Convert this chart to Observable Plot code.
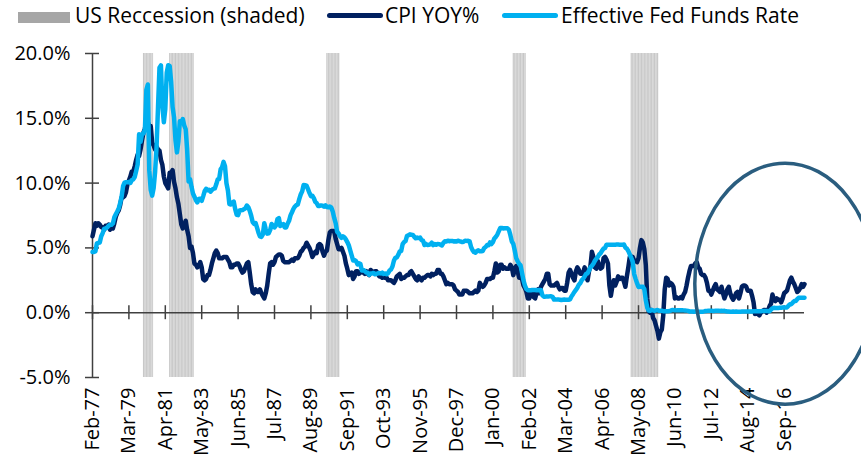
<!DOCTYPE html>
<html><head><meta charset="utf-8">
<script src="https://cdn.jsdelivr.net/npm/d3@7"></script>
<script src="https://cdn.jsdelivr.net/npm/@observablehq/plot@0.6"></script>
<style>
body{margin:0;background:#fff;font-family:"Open Sans",sans-serif;}
#legend{position:relative;height:32px;width:861px;font-size:21px;color:#000;}
#legend .sw{position:absolute;}
#legend .lb{position:absolute;top:0px;line-height:30px;white-space:nowrap;}
#chart svg{display:block;}
</style></head><body>
<div id="legend">
  <div class="sw" style="left:18px;top:12px;width:52px;height:11px;background:#a6a6a6"></div>
  <div class="lb" style="left:75px">US Reccession (shaded)</div>
  <div class="sw" style="left:327px;top:13px;width:56px;height:5px;border-radius:3px;background:#002060"></div>
  <div class="lb" style="left:385px">CPI YOY%</div>
  <div class="sw" style="left:502px;top:13px;width:56px;height:5px;border-radius:3px;background:#00b0f0"></div>
  <div class="lb" style="left:561px">Effective Fed Funds Rate</div>
</div>
<div id="chart"></div>
<script>
// Monthly series, Feb-1977 .. Nov-2017 (one row per year)
const cpi = [
  5.9,6.4,6.9,6.7,6.9,6.8,6.6,6.6,6.4,6.7,6.7,
  6.8,6.4,6.6,6.5,6.9,7.4,7.7,7.9,8.3,8.9,8.9,9.0,
  9.3,9.9,10.2,10.5,10.9,10.9,11.3,11.8,12.2,12.1,12.6,13.3,
  13.9,14.2,14.8,14.7,14.4,14.4,13.1,12.9,12.6,12.8,12.6,12.5,
  11.8,11.4,10.5,10.0,9.8,9.6,10.8,10.8,11.0,10.1,9.6,8.9,
  8.4,7.6,6.8,6.5,6.7,7.1,6.4,5.9,5.0,5.1,4.6,3.8,
  3.7,3.5,3.6,3.9,3.5,2.6,2.5,2.6,2.9,2.9,3.3,3.8,
  4.2,4.6,4.8,4.6,4.2,4.2,4.2,4.3,4.3,4.3,4.1,3.9,
  3.5,3.5,3.7,3.7,3.8,3.8,3.6,3.3,3.1,3.2,3.5,3.8,
  3.9,3.1,2.2,1.6,1.5,1.8,1.6,1.6,1.8,1.5,1.3,1.1,
  1.5,2.1,3.0,3.8,3.9,3.7,3.9,4.3,4.4,4.5,4.5,4.4,
  4.0,3.9,3.9,3.9,3.9,4.0,4.1,4.0,4.2,4.2,4.2,4.4,
  4.7,4.8,5.0,5.1,5.4,5.2,5.0,4.7,4.3,4.5,4.7,4.6,
  5.2,5.3,5.2,4.7,4.4,4.7,4.8,5.6,6.2,6.3,6.3,6.3,
  5.7,5.3,4.9,4.9,5.0,4.7,4.4,3.8,3.4,2.9,3.0,3.1,
  2.6,2.8,3.2,3.2,3.0,3.1,3.2,3.1,3.0,3.2,3.0,2.9,
  3.3,3.2,3.1,3.2,3.2,3.0,2.8,2.8,2.7,2.8,2.7,2.7,
  2.5,2.5,2.5,2.4,2.3,2.5,2.8,2.9,3.0,2.6,2.7,2.7,
  2.8,2.9,2.9,3.1,3.2,3.0,2.8,2.6,2.5,2.8,2.6,2.5,
  2.7,2.7,2.8,2.9,2.9,2.8,3.0,2.9,3.0,3.0,3.3,3.3,
  3.0,3.0,2.8,2.5,2.2,2.3,2.2,2.2,2.2,2.1,1.8,1.7,
  1.6,1.4,1.4,1.4,1.7,1.7,1.7,1.6,1.5,1.5,1.5,1.6,
  1.7,1.6,1.7,2.3,2.1,2.0,2.1,2.3,2.6,2.6,2.6,2.7,
  2.7,3.2,3.8,3.1,3.2,3.7,3.7,3.4,3.5,3.4,3.4,3.4,
  3.7,3.5,2.9,3.3,3.6,3.2,2.7,2.7,2.6,2.1,1.9,1.6,
  1.1,1.1,1.5,1.6,1.2,1.1,1.5,1.8,1.5,2.0,2.2,2.4,
  2.6,3.0,3.0,2.2,2.1,2.1,2.1,2.2,2.3,2.0,1.8,1.9,
  1.9,1.7,1.7,2.3,3.1,3.3,3.0,2.7,2.5,3.2,3.5,3.3,
  3.0,3.0,3.1,3.5,2.8,2.5,3.2,3.6,4.7,4.3,3.5,3.4,
  4.0,3.6,3.4,3.5,4.2,4.3,4.1,3.8,2.1,1.3,2.0,2.5,
  2.1,2.4,2.8,2.6,2.7,2.7,2.4,2.0,2.8,3.5,4.3,4.1,
  4.3,4.0,4.0,3.9,4.2,5.0,5.6,5.4,4.9,3.7,1.1,0.1,
  0.0,0.2,-0.4,-0.6,-1.0,-1.4,-2.0,-1.5,-1.3,-0.2,1.8,2.7,
  2.6,2.1,2.3,2.2,2.0,1.1,1.2,1.1,1.1,1.2,1.1,1.4,
  1.6,2.1,2.7,3.2,3.6,3.6,3.6,3.8,3.9,3.5,3.4,3.0,
  2.9,2.9,2.7,2.3,1.7,1.7,1.4,1.7,2.0,2.2,1.8,1.7,
  1.6,2.0,1.5,1.1,1.4,1.8,2.0,1.5,1.2,1.0,1.2,1.5,
  1.6,1.1,1.5,2.0,2.1,2.1,2.0,1.7,1.7,1.7,1.3,0.8,
  -0.1,0.0,-0.1,-0.2,0.0,0.1,0.2,0.2,0.0,0.2,0.5,0.7,
  1.4,1.0,0.9,1.1,1.0,1.0,0.8,1.1,1.5,1.6,1.7,2.1,
  2.5,2.7,2.4,2.2,1.9,1.6,1.7,1.9,2.2,2.0,2.2
];
const fed = [
  4.68,4.69,4.73,5.35,5.39,5.42,5.90,6.14,6.47,6.51,6.56,
  6.70,6.78,6.79,6.89,7.36,7.60,7.81,8.04,8.45,8.96,9.76,10.03,
  10.07,10.06,10.09,10.01,10.24,10.29,10.47,10.94,11.43,13.77,13.18,13.78,
  13.82,14.13,17.19,17.61,10.98,9.47,9.03,9.61,10.87,12.81,15.85,18.90,
  19.08,15.93,14.70,15.72,18.52,19.10,19.04,17.82,15.87,15.08,13.31,12.37,
  13.22,14.78,14.68,14.94,14.45,14.15,12.59,10.12,10.31,9.71,9.20,8.95,
  8.68,8.51,8.77,8.80,8.63,8.98,9.37,9.56,9.45,9.48,9.34,9.47,
  9.56,9.59,9.91,10.29,10.32,11.06,11.23,11.64,11.30,9.99,9.43,8.38,
  8.35,8.50,8.58,7.99,7.56,7.53,7.88,7.90,7.92,7.99,8.05,8.27,
  8.14,7.86,7.48,6.99,6.85,6.92,6.56,6.17,5.89,5.85,6.04,6.91,
  6.43,6.10,6.13,6.37,6.85,6.73,6.58,6.73,7.22,7.29,6.69,6.77,
  6.83,6.58,6.58,6.87,7.09,7.51,7.75,8.01,8.19,8.30,8.35,8.76,
  9.12,9.36,9.85,9.84,9.81,9.53,9.24,8.99,9.02,8.84,8.55,8.45,
  8.23,8.24,8.28,8.26,8.18,8.29,8.15,8.13,8.20,8.11,7.81,7.31,
  6.91,6.25,6.12,5.91,5.78,5.90,5.82,5.66,5.45,5.21,4.81,4.43,
  4.03,4.06,3.98,3.73,3.82,3.76,3.25,3.30,3.22,3.10,3.09,2.92,
  3.02,3.03,3.07,2.96,3.00,3.04,3.06,3.03,3.09,2.99,3.02,2.96,
  3.05,3.25,3.34,3.56,4.01,4.25,4.26,4.47,4.73,4.76,5.29,5.45,
  5.53,5.92,5.98,6.05,6.01,6.00,5.85,5.74,5.80,5.76,5.80,5.60,
  5.56,5.22,5.31,5.22,5.24,5.27,5.40,5.22,5.30,5.24,5.31,5.29,
  5.25,5.19,5.39,5.51,5.50,5.56,5.52,5.54,5.54,5.50,5.52,5.50,
  5.56,5.51,5.49,5.45,5.49,5.56,5.54,5.55,5.51,5.07,4.83,4.68,
  4.63,4.76,4.81,4.74,4.74,4.76,4.99,5.07,5.22,5.20,5.42,5.30,
  5.45,5.73,5.85,6.02,6.27,6.53,6.54,6.50,6.52,6.51,6.51,6.40,
  5.98,5.49,5.31,4.80,4.21,3.97,3.77,3.65,3.07,2.49,2.09,1.82,
  1.73,1.74,1.73,1.75,1.75,1.75,1.73,1.74,1.75,1.75,1.34,1.24,
  1.24,1.26,1.25,1.26,1.26,1.22,1.01,1.03,1.01,1.01,1.00,0.98,
  1.00,1.01,1.00,1.00,1.00,1.03,1.26,1.43,1.61,1.76,1.93,2.16,
  2.28,2.50,2.63,2.79,3.00,3.04,3.26,3.50,3.62,3.78,4.00,4.16,
  4.29,4.49,4.59,4.79,4.94,4.99,5.24,5.25,5.25,5.25,5.25,5.24,
  5.25,5.26,5.26,5.25,5.25,5.25,5.26,5.02,4.94,4.76,4.49,4.24,
  3.94,2.98,2.61,2.28,1.98,2.00,2.01,2.00,1.81,0.97,0.39,0.16,
  0.15,0.22,0.18,0.15,0.18,0.21,0.16,0.16,0.15,0.12,0.12,0.12,
  0.11,0.13,0.16,0.20,0.20,0.18,0.18,0.19,0.19,0.19,0.19,0.18,
  0.17,0.16,0.14,0.10,0.09,0.09,0.07,0.10,0.08,0.07,0.08,0.07,
  0.08,0.10,0.13,0.14,0.16,0.16,0.16,0.13,0.14,0.16,0.16,0.16,
  0.14,0.15,0.14,0.15,0.11,0.09,0.09,0.08,0.08,0.09,0.08,0.09,
  0.07,0.07,0.08,0.09,0.09,0.10,0.09,0.09,0.09,0.09,0.09,0.12,
  0.11,0.11,0.11,0.12,0.12,0.13,0.13,0.14,0.14,0.12,0.12,0.24,
  0.34,0.38,0.36,0.37,0.37,0.38,0.39,0.40,0.40,0.40,0.41,0.54,
  0.65,0.66,0.79,0.90,0.91,1.04,1.15,1.16,1.15,1.15,1.16
];
const firstMonth = "1977-02";
const xTickLabels = ["Feb-77","Mar-79","Apr-81","May-83","Jun-85","Jul-87","Aug-89","Sep-91","Oct-93","Nov-95","Dec-97","Jan-00","Feb-02","Mar-04","Apr-06","May-08","Jun-10","Jul-12","Aug-14","Sep-16"];
const yTicks = [-5, 0, 5, 10, 15, 20];
const recessionStart = ["1980-01","1981-07","1990-07","2001-03","2007-12"];
const recessionEnd   = ["1980-07","1982-11","1991-03","2001-11","2009-06"];
// hand-drawn highlight ellipse (annotation), in data units
const highlight = {center: "2016-10", value: 2.2, halfMonths: 62, halfPct: 9.3};

const monthIndex = s => { const [y, m] = s.split("-").map(Number); const [y0, m0] = firstMonth.split("-").map(Number); return (y - y0) * 12 + (m - m0); };
const labelIndex = lab => { const mon = ["Jan","Feb","Mar","Apr","May","Jun","Jul","Aug","Sep","Oct","Nov","Dec"]; const [mm, yy] = lab.split("-"); const y = +yy < 50 ? 2000 + +yy : 1900 + +yy; return monthIndex(y + "-" + (mon.indexOf(mm) + 1)); };

const N = cpi.length;
const rows = cpi.map((v, i) => ({i, cpi: v, fed: fed[i]}));
const recMonths = [];
recessionStart.forEach((s, k) => { for (let m = monthIndex(s); m <= monthIndex(recessionEnd[k]); m++) recMonths.push(m); });
const xTicks = xTickLabels.map((lab) => ({i: labelIndex(lab), lab}));

const axisColor = "#404040";
const plot = Plot.plot({
  width: 861, height: 429,
  marginLeft: 92, marginRight: 57, marginTop: 21, marginBottom: 84,
  x: {domain: [0, N - 1], axis: null},
  y: {domain: [-5, 20], axis: null},
  style: {fontFamily: "Open Sans, sans-serif", color: "#000", background: "#fff"},
  marks: [
    Plot.rect(recMonths, {x1: d => d, x2: d => d + 1, y1: -5, y2: 20, fill: "#e4e4e4"}),
    Plot.ruleX(recMonths, {x: d => d, y1: -5, y2: 20, stroke: "#c4c4c4", strokeWidth: 0.9}),
    Plot.ruleY([0], {x1: 0, x2: N - 1, stroke: axisColor, strokeWidth: 1.5}),
    Plot.ruleX([0], {y1: -5, y2: 20, stroke: axisColor, strokeWidth: 1.5}),
    Plot.ruleY(yTicks, {x1: 0, x2: 0, insetLeft: -7, insetRight: -7, stroke: axisColor, strokeWidth: 1.5}),
    Plot.ruleX(xTicks, {x: "i", y1: 0, y2: 0, insetTop: -7, insetBottom: -7, stroke: axisColor, strokeWidth: 1.5}),
    Plot.text(yTicks, {x: 0, y: d => d, text: d => d.toFixed(1) + "%", textAnchor: "end", dx: -22, fontSize: 20, fill: "#000"}),
    Plot.text(xTicks, {x: "i", y: -5, text: "lab", rotate: -90, textAnchor: "end", dy: 10, fontSize: 20, fill: "#000"}),
    Plot.line(rows, {x: "i", y: "cpi", stroke: "#002060", strokeWidth: 4.5, strokeLinejoin: "round"}),
    Plot.line(rows, {x: "i", y: "fed", stroke: "#00b0f0", strokeWidth: 4.5, strokeLinejoin: "round"})
  ]
});
const sx = plot.scale("x"), sy = plot.scale("y");
const c = monthIndex(highlight.center);
const cx = sx.apply(c), cy = sy.apply(highlight.value);
d3.select(plot).append("ellipse")
  .attr("cx", cx).attr("cy", cy)
  .attr("rx", sx.apply(c + highlight.halfMonths) - cx)
  .attr("ry", cy - sy.apply(highlight.value + highlight.halfPct))
  .attr("fill", "none").attr("stroke", "#2a5d7f").attr("stroke-width", 3.5);
document.getElementById("chart").append(plot);
</script>
</body></html>
